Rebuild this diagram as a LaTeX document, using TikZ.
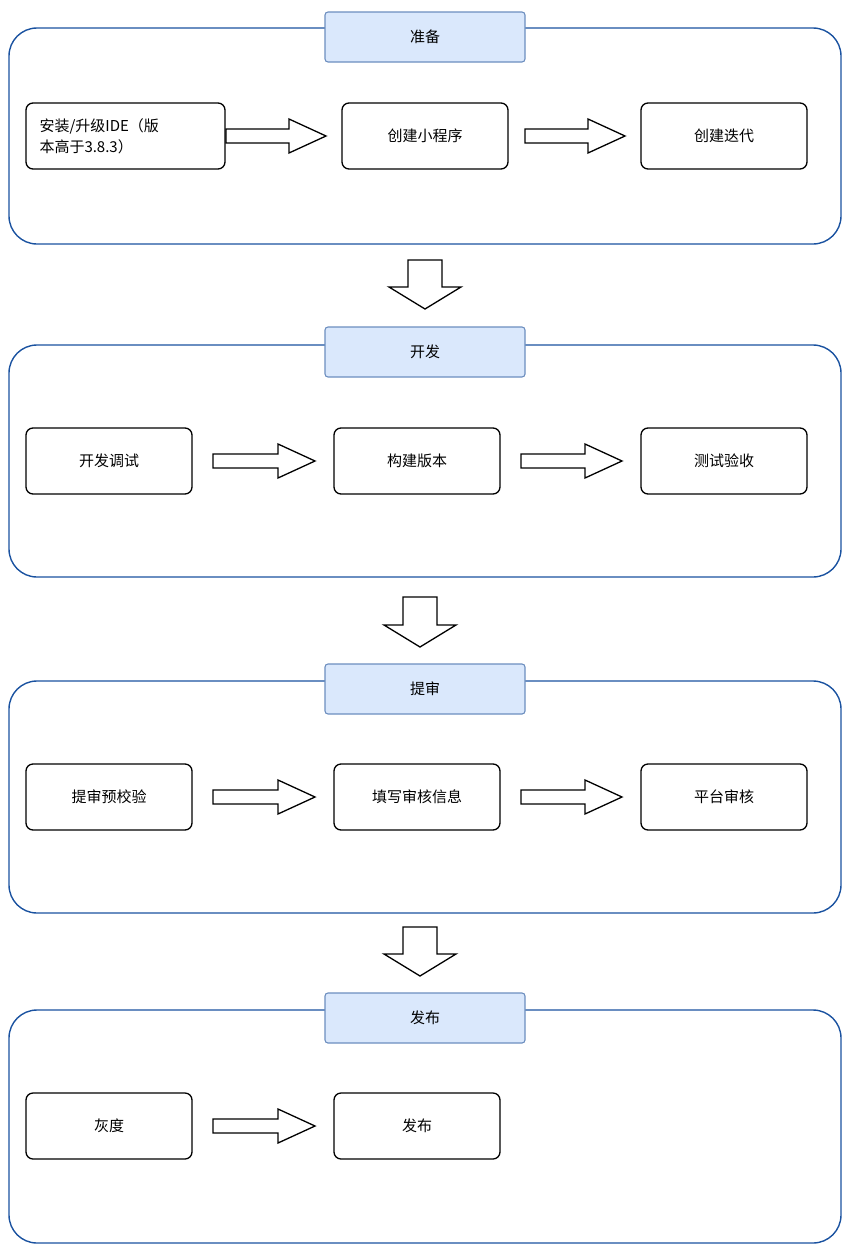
\documentclass[tikz,border=0pt]{standalone}
\usepackage{fontspec}
\setmainfont{Noto Sans CJK SC}
\definecolor{frameblue}{HTML}{1A52A0}
\definecolor{tabfill}{HTML}{DAE8FC}
\definecolor{tabdraw}{HTML}{6C8EBF}
\tikzset{
  stage/.style={draw=frameblue,line width=1.4pt,rounded corners=28pt},
  tab/.style={draw=tabdraw,fill=tabfill,rounded corners=3pt,line width=1.1pt,
    minimum width=200pt,minimum height=50pt,font=\fontsize{15}{18}\selectfont},
  stepbox/.style={draw,rounded corners=7pt,line width=1.3pt,minimum width=166pt,
    minimum height=66pt,align=center,font=\fontsize{15}{21}\selectfont},
  flow/.style={draw,line width=1.3pt,fill=white}
}
% block arrow to the right: from x1 to x2 at height y
\newcommand{\rightblock}[3]{%
  \draw[flow] (#1,#3-7) -- (#2-37,#3-7) -- (#2-37,#3-17) -- (#2,#3) --
    (#2-37,#3+17) -- (#2-37,#3+7) -- (#1,#3+7) -- cycle;}
% block arrow downward: centre x, from y1 to y2
\newcommand{\downblock}[3]{%
  \draw[flow] (#1-17,#2) -- (#1+17,#2) -- (#1+17,#3-22) -- (#1+36,#3-22) --
    (#1,#3) -- (#1-36,#3-22) -- (#1-17,#3-22) -- cycle;}
\begin{document}
\begin{tikzpicture}[x=1pt,y=-1pt]
\useasboundingbox (0,0) rectangle (850,1250);
% stages
\draw[stage] (9,28) rectangle (841,244);
\draw[stage] (9,345) rectangle (841,577);
\draw[stage] (9,681) rectangle (841,913);
\draw[stage] (9,1010) rectangle (841,1243);
\node[tab] (prep) at (425,37) {准备};
\node[tab] (dev) at (425,352) {开发};
\node[tab] (review) at (425,689) {提审};
\node[tab] (pub) at (425,1018) {发布};
% stage 1
\node[stepbox,minimum width=199pt,text width=172pt,align=left] (ide) at (125.5,136) {安装/升级IDE（版\\本高于3.8.3）};
\node[stepbox] (create) at (425,136) {创建小程序};
\node[stepbox] (iter) at (724,136) {创建迭代};
\rightblock{226}{326}{136}
\rightblock{525}{625}{136}
\downblock{425}{260}{309}
% stage 2
\node[stepbox] (debug) at (109,461) {开发调试};
\node[stepbox] (build) at (417,461) {构建版本};
\node[stepbox] (test) at (724,461) {测试验收};
\rightblock{213}{315}{461}
\rightblock{521}{622}{461}
\downblock{420}{597}{647}
% stage 3
\node[stepbox] (precheck) at (109,797) {提审预校验};
\node[stepbox] (fill) at (417,797) {填写审核信息};
\node[stepbox] (audit) at (724,797) {平台审核};
\rightblock{213}{315}{797}
\rightblock{521}{622}{797}
\downblock{420}{927}{976}
% stage 4
\node[stepbox] (gray) at (109,1126) {灰度};
\node[stepbox] (release) at (417,1126) {发布};
\rightblock{213}{315}{1126}
\end{tikzpicture}
\end{document}
